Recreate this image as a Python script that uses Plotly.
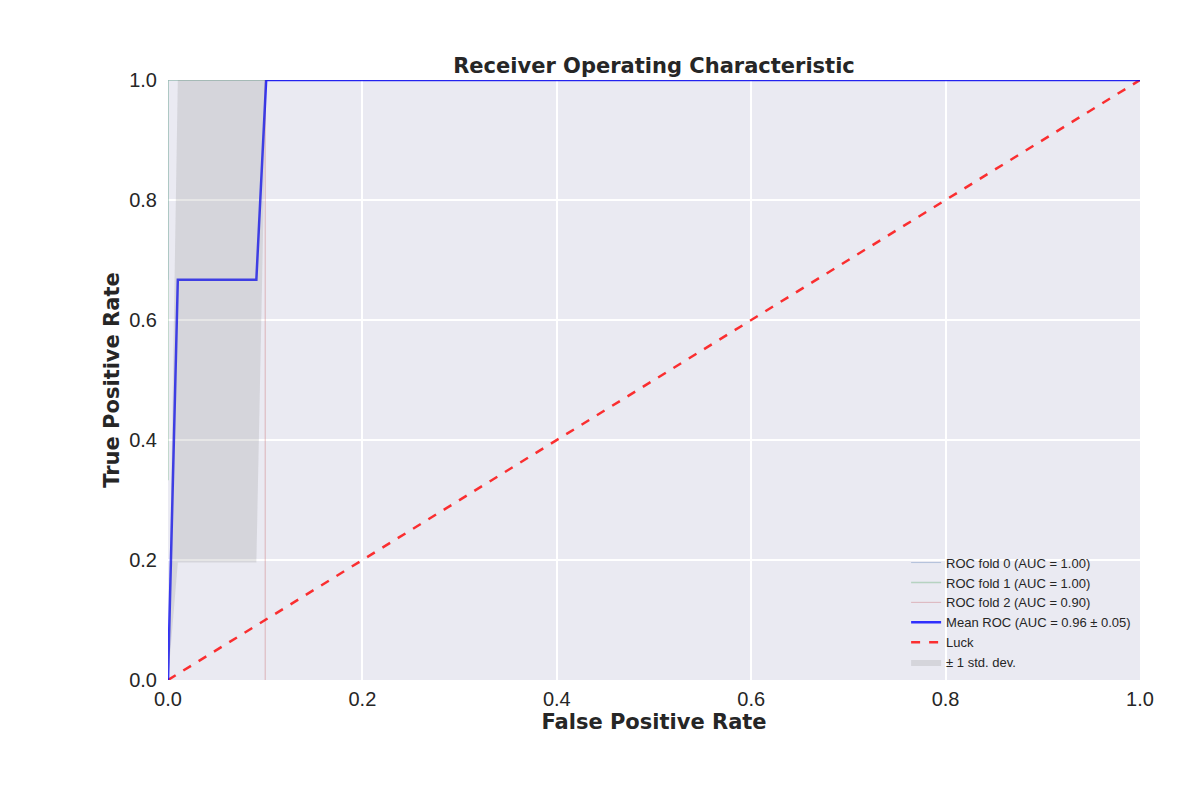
import plotly.graph_objects as go

# Per-fold ROC curves
fold0_fpr = [0.0, 0.0, 1.0]
fold0_tpr = [0.667, 1.0, 1.0]
fold1_fpr = [0.0, 0.0, 1.0]
fold1_tpr = [0.333, 1.0, 1.0]
fold2_fpr = [0.1, 0.1, 1.0]
fold2_tpr = [0.0, 1.0, 1.0]
fold_auc = [1.00, 1.00, 0.90]

# Mean ROC and +/- 1 std band
mean_fpr = [0.0, 0.0101, 0.0909, 0.101, 1.0]
mean_tpr = [0.0, 0.667, 0.667, 1.0, 1.0]
tpr_upper = [0.0, 1.0, 1.0, 1.0, 1.0]
tpr_lower = [0.0, 0.196, 0.196, 1.0, 1.0]
mean_auc = 0.96
std_auc = 0.05

# Chance line
luck_x = [0.0, 1.0]
luck_y = [0.0, 1.0]

ticks = [0.0, 0.2, 0.4, 0.6, 0.8, 1.0]
tick_text = ["0.0", "0.2", "0.4", "0.6", "0.8", "1.0"]

FONT = "Liberation Sans, Arial, sans-serif"
BOLD = "DejaVu Sans, sans-serif"
TXT = "#262626"

fig = go.Figure()
fold_colors = ["#4C72B0", "#55A868", "#C44E52"]
fold_widths = [1, 1.5, 1]
folds = [(fold0_fpr, fold0_tpr), (fold1_fpr, fold1_tpr), (fold2_fpr, fold2_tpr)]
for i, (fx, fy) in enumerate(folds):
    fig.add_trace(go.Scatter(
        x=fx, y=fy, mode="lines", line=dict(color=fold_colors[i], width=fold_widths[i]),
        opacity=0.35, name=f"ROC fold {i} (AUC = {fold_auc[i]:.2f})", legendrank=i + 1))

fig.add_trace(go.Scatter(
    x=luck_x, y=luck_y, mode="lines", line=dict(color="red", width=2.5, dash="dash"),
    opacity=0.8, name="Luck", legendrank=5))

fig.add_trace(go.Scatter(
    x=mean_fpr, y=mean_tpr, mode="lines", line=dict(color="blue", width=2.5),
    opacity=0.8, name=f"Mean ROC (AUC = {mean_auc:.2f} \u00b1 {std_auc:.2f})", legendrank=4))

fig.add_trace(go.Scatter(
    x=mean_fpr, y=tpr_lower, mode="lines", line=dict(width=0, color="rgba(128,128,128,0)"),
    showlegend=False, hoverinfo="skip"))
fig.add_trace(go.Scatter(
    x=mean_fpr, y=tpr_upper, mode="lines", line=dict(width=0, color="rgba(128,128,128,0)"),
    fill="tonexty", fillcolor="rgba(128,128,128,0.2)", name="\u00b1 1 std. dev.", legendrank=6))

axis_common = dict(
    range=[0, 1], tickvals=ticks, ticktext=tick_text, showgrid=True, gridcolor="white",
    gridwidth=1.5, zeroline=False, showline=False, tickfont=dict(size=20, color=TXT, family=FONT),
    ticks="outside", tickcolor="rgba(0,0,0,0)",
)

fig.update_layout(
    width=1200, height=800,
    margin=dict(l=160, r=68, t=72, b=128),
    paper_bgcolor="white", plot_bgcolor="#EAEAF2",
    font=dict(family=FONT, color=TXT),
    title=dict(text="<b>Receiver Operating Characteristic</b>", x=0.5, xref="paper", xanchor="center",
               y=1, yref="paper", yanchor="bottom", pad=dict(b=7), font=dict(size=21, color=TXT, family=BOLD)),
    xaxis=dict(title=dict(text="<b>False Positive Rate</b>", font=dict(size=21, color=TXT, family=BOLD), standoff=5),
               ticklen=1, **axis_common),
    yaxis=dict(title=dict(text="<b>True Positive Rate</b>", font=dict(size=21, color=TXT, family=BOLD), standoff=3),
               ticklen=6, **axis_common),
    legend=dict(x=0.996, y=0.004, xanchor="right", yanchor="bottom", bgcolor="rgba(0,0,0,0)",
                font=dict(size=13, color=TXT, family=FONT), itemwidth=30, tracegroupgap=0,
                traceorder="normal"),
    showlegend=True,
)

fig.write_html("out.html")
